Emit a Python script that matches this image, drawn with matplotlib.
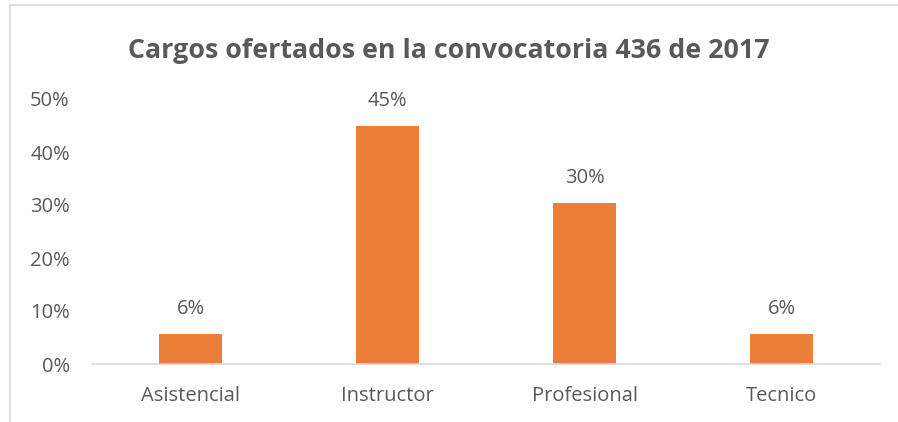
import matplotlib.pyplot as plt
from matplotlib.patches import Rectangle
from matplotlib.ticker import PercentFormatter

categories = ["Asistencial", "Instructor", "Profesional", "Tecnico"]
shares = [0.0566, 0.45, 0.304, 0.0566]
labels = ["6%", "45%", "30%", "6%"]

plt.rcParams['font.family'] = ['Open Sans', 'DejaVu Sans']
gray = '#595959'

fig = plt.figure(figsize=(8.98, 4.22), dpi=100)
ax = fig.add_axes([92/898, 1 - 364/422, (880 - 92)/898, (364 - 99)/422])

x = range(len(categories))
bars = ax.bar(x, shares, width=0.315, color='#EB7E38')

# value labels above bars
for b, lab in zip(bars, labels):
    ax.annotate(lab, (b.get_x() + b.get_width()/2, b.get_height()),
                xytext=(0, 18), textcoords='offset points',
                ha='center', va='center', fontsize=14.5, color=gray)

ax.set_xlim(-0.5, 3.5)
ax.set_ylim(0, 0.5)
ax.set_yticks([0, 0.1, 0.2, 0.3, 0.4, 0.5])
ax.yaxis.set_major_formatter(PercentFormatter(1.0, decimals=0))
ax.set_xticks(list(x))
ax.set_xticklabels(categories)
ax.tick_params(axis='both', length=0, labelsize=14.5, labelcolor=gray)
ax.tick_params(axis='y', pad=16)
ax.tick_params(axis='x', pad=16)

for s in ['top', 'right', 'left']:
    ax.spines[s].set_visible(False)
ax.spines['bottom'].set_color('#d9d9d9')
ax.spines['bottom'].set_linewidth(1.2)

fig.text(0.5, 1 - 51/422, "Cargos ofertados en la convocatoria 436 de 2017",
         ha='center', va='center', fontsize=19.3, fontweight='bold', color=gray)

# chart area border (cropped on the right and bottom)
fig.patches.append(Rectangle((10/898, -0.1), 1.0, 1.1 - 5/422,
                             transform=fig.transFigure, fill=False,
                             edgecolor='#d9d9d9', linewidth=1.2))

fig.savefig('out.png', dpi=100)
